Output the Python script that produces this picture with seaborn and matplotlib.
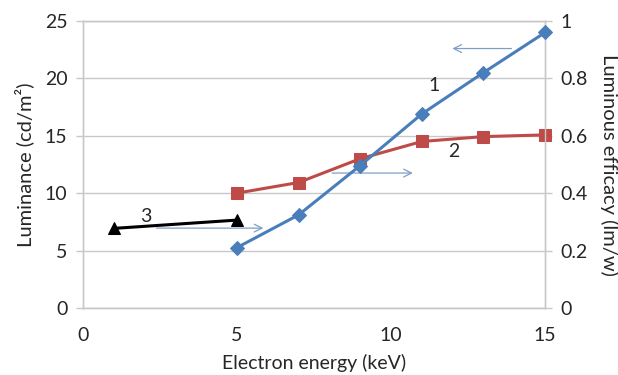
import matplotlib
matplotlib.use("Agg")
import matplotlib.pyplot as plt
import seaborn as sns
import pandas as pd

# Electron energy (keV)
energy_1 = [5, 7, 9, 11, 13, 15]
luminance_1 = [5.25, 8.1, 12.4, 16.9, 20.5, 24.0]       # cd/m^2, left axis

energy_2 = [5, 7, 9, 11, 13, 15]
efficacy_2 = [0.40, 0.437, 0.52, 0.58, 0.597, 0.603]    # lm/W, right axis

energy_3 = [1, 5]
efficacy_3 = [0.277, 0.306]                              # lm/W, right axis

x_ticks = [0, 5, 10, 15]
left_ticks = [0, 5, 10, 15, 20, 25]
right_ticks = [0, 0.2, 0.4, 0.6, 0.8, 1.0]
right_tick_labels = ["0", "0.2", "0.4", "0.6", "0.8", "1"]

sns.set_theme(style="white")
plt.rcParams["font.family"] = ["Lato", "DejaVu Sans"]

BLUE = "#4A7EBB"
RED = "#BE4B48"
GRID = "#C8C8C8"
TEXT = "#262626"

fig = plt.figure(figsize=(6.18, 3.75), dpi=100)
ax = fig.add_axes([0.134, 0.179, 0.748, 0.765])
ax2 = ax.twinx()

df1 = pd.DataFrame({"energy": energy_1, "value": luminance_1})
df2 = pd.DataFrame({"energy": energy_2, "value": efficacy_2})
df3 = pd.DataFrame({"energy": energy_3, "value": efficacy_3})

sns.lineplot(data=df1, x="energy", y="value", ax=ax, color=BLUE, lw=2.2,
             marker="D", markersize=7, markeredgecolor=BLUE, clip_on=False, zorder=4)
sns.lineplot(data=df2, x="energy", y="value", ax=ax2, color=RED, lw=2.2,
             marker="s", markersize=9, markeredgecolor=RED, clip_on=False, zorder=3)
sns.lineplot(data=df3, x="energy", y="value", ax=ax2, color="black", lw=2.2,
             marker="^", markersize=9, markeredgecolor="black", clip_on=False, zorder=3)

ax.set_xlim(0, 15)
ax.set_ylim(0, 25)
ax2.set_ylim(0, 1)
ax.set_xticks(x_ticks)
ax.set_yticks(left_ticks)
ax2.set_yticks(right_ticks)
ax2.set_yticklabels(right_tick_labels)

# Gridlines live on the lower (right-hand) axes so they stay behind every curve
ax.grid(False)
ax2.grid(True, color=GRID, lw=1.0)
ax2.set_axisbelow(True)
for a in (ax, ax2):
    for s in a.spines.values():
        s.set_color(GRID)
        s.set_linewidth(1.0)
    a.tick_params(axis="both", labelsize=14, colors=GRID, labelcolor=TEXT,
                  length=5, width=1.0, direction="out", pad=6)
ax.tick_params(axis="x", pad=9)

ax.set_xlabel("Electron energy (keV)", fontsize=14, color=TEXT, labelpad=7)
ax.set_ylabel("Luminance (cd/m²)", fontsize=14.5, color=TEXT, labelpad=8)
ax2.set_ylabel("Luminous efficacy (lm/w)", fontsize=14.5, color=TEXT,
               rotation=-90, labelpad=22)

# Curve numbers
ax.text(11.4, 19.4, "1", fontsize=14, color=TEXT, ha="center", va="center", zorder=6)
ax.text(12.05, 13.6, "2", fontsize=14, color=TEXT, ha="center", va="center", zorder=6)
ax.text(2.05, 8.0, "3", fontsize=14, color=TEXT, ha="center", va="center", zorder=6)

# Arrows pointing to the axis each curve belongs to
arrow_style = dict(arrowstyle="->", color="#7F9FC6", lw=0.9, mutation_scale=14)
ax.annotate("", xy=(11.9, 22.6), xytext=(14.0, 22.6), arrowprops=arrow_style, zorder=2)
ax.annotate("", xy=(10.8, 11.75), xytext=(8.0, 11.75), arrowprops=arrow_style, zorder=2)
ax.annotate("", xy=(5.95, 6.95), xytext=(2.3, 6.95), arrowprops=arrow_style, zorder=2)

ax.set_zorder(ax2.get_zorder() + 1)
ax.patch.set_visible(False)

fig.savefig("out.png", dpi=100)
